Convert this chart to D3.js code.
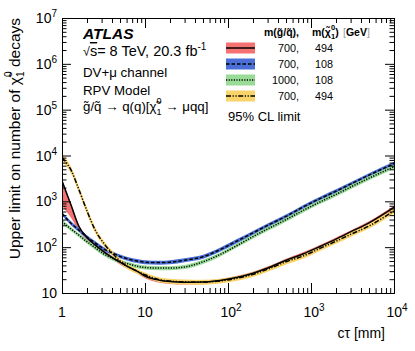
<!DOCTYPE html>
<html lang="en">
<head>
<meta charset="UTF-8">
<title>Upper limit on number of neutralino decays</title>
<script src="https://d3js.org/d3.v7.min.js"></script>
<style>
  body { margin: 0; background: #fff; }
  svg { font-family: "Liberation Sans", Arial, Helvetica, sans-serif; }
</style>
</head>
<body>
<svg id="main" width="415" height="351"></svg>
<script>
// proper decay length c*tau in mm
const ctPoints = [1, 1.3, 1.6, 2, 2.5, 3.2, 4, 5, 6.3, 8, 10, 15, 20, 30, 50, 80, 130, 200, 300, 500, 800, 1300, 2000, 3000, 5000, 10000];

// m(g/q)=700, m(chi)=494  (solid, red band)
const limA   = [2800, 780, 283, 163, 112, 79, 60, 47, 37, 30, 23.5, 19, 17.8, 17.2, 17.4, 18.8, 22, 27, 35, 52, 71, 105, 150, 215, 340, 740];
const limALo = [800, 420, 225, 140, 98, 70, 53, 42, 33, 26.5, 21, 16.8, 15.8, 15.3, 15.5, 16.8, 19.6, 24, 31, 46.5, 63, 94, 134, 192, 305, 665];
const limAHi = [3000, 840, 305, 176, 121, 85, 65, 51, 40, 32.4, 25.4, 20.5, 19.2, 18.6, 18.8, 20.3, 23.8, 29.2, 37.8, 56, 77, 113, 162, 232, 367, 800];

// m(g/q)=700, m(chi)=108  (dashed, blue band)
const limB   = [540, 325, 235, 166, 124, 91, 75, 63, 55, 50, 47, 46, 47, 52, 62, 88, 138, 205, 300, 470, 750, 1160, 1660, 2380, 3730, 6600];
const limBLo = [490, 295, 213, 150, 112, 82, 68, 57, 50, 45, 42.5, 41.5, 42.5, 47, 56, 79, 124, 185, 270, 423, 675, 1045, 1495, 2140, 3360, 5950];
const limBHi = [595, 358, 259, 183, 136, 100, 83, 69, 60.5, 55, 52, 50.5, 52, 57, 68, 97, 152, 226, 330, 517, 825, 1275, 1825, 2620, 4100, 7260];

// m(g/q)=1000, m(chi)=108  (dotted, green band)
const limC   = [360, 245, 183, 132, 98, 71, 58, 49, 43, 38.5, 36, 35, 35, 37, 48, 69, 110, 170, 250, 400, 630, 980, 1420, 2050, 3200, 5700];
const limCLo = [324, 220, 165, 119, 88, 64, 52, 44, 38.7, 34.6, 32.4, 31.5, 31.5, 33.3, 43, 62, 99, 153, 225, 360, 567, 882, 1278, 1845, 2880, 5130];
const limCHi = [396, 270, 201, 145, 108, 78, 64, 54, 47.3, 42.4, 39.6, 38.5, 38.5, 40.7, 53, 76, 121, 187, 275, 440, 693, 1078, 1562, 2255, 3520, 6270];

// m(g/q)=700, m(chi)=494  (dash-dot, yellow band)
const limD   = [9000, 4600, 1800, 620, 240, 120, 75, 50, 37, 30, 25, 19.5, 18.2, 17.5, 17.3, 18.3, 21, 25.5, 33, 48, 64, 95, 135, 190, 290, 620];
const limDLo = [7600, 3900, 1520, 530, 208, 105, 66, 44, 32.5, 26.4, 22, 17.2, 16, 15.4, 15.2, 16.1, 18.5, 22.4, 29, 42, 56, 84, 119, 167, 255, 545];
const limDHi = [10600, 5400, 2100, 720, 275, 136, 85, 56, 41.5, 33.6, 28, 21.8, 20.4, 19.6, 19.4, 20.5, 23.5, 28.6, 37, 54, 72, 106, 151, 213, 325, 695];

const legendSquark = ['700,', '700,', '1000,', '700,'];
const legendChi    = ['494', '108', '108', '494'];

const xMajor = [1, 10, 100, 1000, 10000];
const yMajor = [10, 100, 1e3, 1e4, 1e5, 1e6, 1e7];

const svg = d3.select('svg#main');
const plot = {l: 62, r: 394, t: 18, b: 293};

const x = d3.scaleLog().domain([1, 1e4]).range([plot.l, plot.r]);
const y = d3.scaleLog().domain([10, 1e7]).range([plot.b, plot.t]);

function minorTicks(majors) {
    let out = [];
    for (let i = 0; i < majors.length - 1; i++)
        for (let k = 2; k <= 9; k++) out.push(majors[i] * k);
    return out;
}
const xMinor = minorTicks(xMajor);
const yMinor = minorTicks(yMajor);

const series = [
    {lim: limA, lo: limALo, hi: limAHi, fill: '#f47272', dash: null},
    {lim: limB, lo: limBLo, hi: limBHi, fill: '#4a70d8', dash: '3.5,2'},
    {lim: limC, lo: limCLo, hi: limCHi, fill: '#98dc98', dash: '1.2,1.4'},
    {lim: limD, lo: limDLo, hi: limDHi, fill: '#f8d46a', dash: '5,1.6,1.2,1.6,1.2,1.6'}
];

svg.append('defs').append('clipPath').attr('id', 'clip')
    .append('rect').attr('x', plot.l).attr('y', plot.t)
    .attr('width', plot.r - plot.l).attr('height', plot.b - plot.t);

const area = d3.area().curve(d3.curveMonotoneX);
const line = d3.line().curve(d3.curveMonotoneX);

const g = svg.append('g').attr('clip-path', 'url(#clip)');
series.forEach(function (s) {
    const pts = ctPoints.map(function (c, i) { return [x(c), y(s.lo[i]), y(s.hi[i])]; });
    g.append('path')
        .attr('d', area.x(d => d[0]).y0(d => d[1]).y1(d => d[2])(pts))
        .attr('fill', s.fill);
});
series.forEach(function (s) {
    const pts = ctPoints.map(function (c, i) { return [x(c), y(s.lim[i])]; });
    g.append('path')
        .attr('d', line(pts))
        .attr('fill', 'none')
        .attr('stroke', '#000')
        .attr('stroke-width', 1.5)
        .attr('stroke-dasharray', s.dash);
});

// axes, ticks pointing inwards on all four sides
function axisPart(axis, tr, vals, size) {
    const a = svg.append('g').attr('transform', tr)
        .call(axis.tickValues(vals).tickSize(size).tickSizeOuter(0).tickFormat(''));
    a.selectAll('text').remove();
    a.selectAll('line').attr('stroke', '#000');
    a.select('.domain').attr('stroke', '#000');
    return a;
}
axisPart(d3.axisBottom(x), `translate(0,${plot.b})`, xMajor, -10);
axisPart(d3.axisBottom(x), `translate(0,${plot.b})`, xMinor, -5);
axisPart(d3.axisTop(x), `translate(0,${plot.t})`, xMajor, -10);
axisPart(d3.axisTop(x), `translate(0,${plot.t})`, xMinor, -5);
axisPart(d3.axisLeft(y), `translate(${plot.l},0)`, yMajor, -9);
axisPart(d3.axisLeft(y), `translate(${plot.l},0)`, yMinor, -4.5);
axisPart(d3.axisRight(y), `translate(${plot.r},0)`, yMajor, -9);
axisPart(d3.axisRight(y), `translate(${plot.r},0)`, yMinor, -4.5);

function powLabel(t, v) {
    const e = Math.round(Math.log10(v));
    if (e <= 1) { t.text(v); return; }
    t.text('10');
    t.append('tspan').attr('dy', -6).attr('font-size', '10px').text(e);
}

svg.append('g').selectAll('text').data(xMajor).join('text')
    .attr('x', d => x(d) + (d >= 100 ? 3 : 0))
    .attr('y', 317)
    .attr('text-anchor', 'middle')
    .attr('font-size', '14px')
    .each(function (d) { powLabel(d3.select(this), d); });

svg.append('g').selectAll('text').data(yMajor).join('text')
    .attr('x', 57)
    .attr('y', d => y(d) + 5)
    .attr('text-anchor', 'end')
    .attr('font-size', '14px')
    .each(function (d) { powLabel(d3.select(this), d); });

// axis titles
svg.append('text')
    .attr('x', 385).attr('y', 338)
    .attr('text-anchor', 'end').attr('font-size', '14px')
    .text('c\u03C4 [mm]');

const yt = svg.append('text')
    .attr('transform', 'translate(20,18) rotate(-90)')
    .attr('text-anchor', 'end').attr('font-size', '15.5px');
yt.append('tspan').text('Upper limit on number of \u03C7\u0303');
yt.append('tspan').attr('font-size', '10px').attr('dy', 4).text('1');
yt.append('tspan').attr('font-size', '10px').attr('dx', -5.5).attr('dy', -12).text('0');
yt.append('tspan').attr('dy', 8).text(' decays');

// labels in the upper left
svg.append('text').attr('x', 83).attr('y', 39)
    .attr('font-size', '15.5px').attr('font-weight', 'bold').attr('font-style', 'italic')
    .text('ATLAS');

const rs = svg.append('text').attr('x', 83).attr('y', 56).attr('font-size', '14.5px');
rs.append('tspan').attr('font-size', '12.5px').text('\u221A');
rs.append('tspan').attr('text-decoration', 'overline').text('s');
rs.append('tspan').text('= 8 TeV, 20.3 fb');
rs.append('tspan').attr('font-size', '10px').attr('dy', -6).text('-1');

svg.append('text').attr('x', 83).attr('y', 77).attr('font-size', '13.3px').text('DV+\u03BC channel');
svg.append('text').attr('x', 83).attr('y', 95).attr('font-size', '13.3px').text('RPV Model');

const dk = svg.append('text').attr('x', 83).attr('y', 111).attr('font-size', '13.3px');
dk.append('tspan').text('g\u0303/q\u0303 \u2192 q(q)[\u03C7\u0303');
dk.append('tspan').attr('font-size', '9px').attr('dy', 4).text('1');
dk.append('tspan').attr('font-size', '9px').attr('dx', -5).attr('dy', -11).text('0');
dk.append('tspan').attr('dy', 7).text(' \u2192 \u03BCqq]');

// legend
const hdr = svg.append('g').attr('font-size', '10.5px').attr('font-weight', 'bold');
hdr.append('text').attr('x', 264).attr('y', 36).text('m(g\u0303/q\u0303),');
const h2 = hdr.append('text').attr('x', 312).attr('y', 36);
h2.append('tspan').text('m(\u03C7\u0303');
h2.append('tspan').attr('font-size', '7.5px').attr('dy', 3).text('1');
h2.append('tspan').attr('font-size', '7.5px').attr('dx', -4).attr('dy', -9).text('0');
h2.append('tspan').attr('dy', 6).text(')');
const h3 = hdr.append('text').attr('x', 343).attr('y', 36);
h3.append('tspan').attr('fill', '#999').attr('font-weight', 'normal').text('[');
h3.append('tspan').text('GeV');
h3.append('tspan').attr('fill', '#999').attr('font-weight', 'normal').text(']');

series.forEach(function (s, i) {
    const cy = 48 + 16 * i;
    svg.append('rect').attr('x', 226).attr('y', cy - 5.5)
        .attr('width', 29).attr('height', 11).attr('fill', s.fill);
    svg.append('line').attr('x1', 226).attr('x2', 255).attr('y1', cy).attr('y2', cy)
        .attr('stroke', '#000').attr('stroke-width', 1.5)
        .attr('stroke-dasharray', s.dash);
    svg.append('text').attr('x', 299).attr('y', cy + 4).attr('text-anchor', 'end')
        .attr('font-size', '10.8px').text(legendSquark[i]);
    svg.append('text').attr('x', 333).attr('y', cy + 4).attr('text-anchor', 'end')
        .attr('font-size', '10.8px').text(legendChi[i]);
});

svg.append('text').attr('x', 228).attr('y', 121).attr('font-size', '13px').text('95% CL limit');
</script>
</body>
</html>
